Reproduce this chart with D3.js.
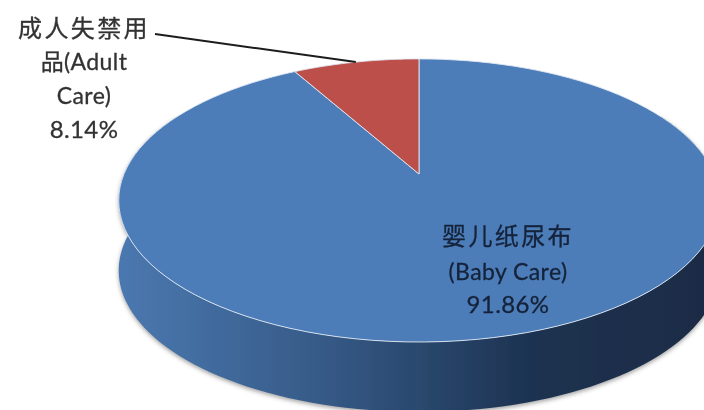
<!DOCTYPE html>
<html><head><meta charset="utf-8">
<script src="https://cdn.jsdelivr.net/npm/d3@7"></script>
<style>html,body{margin:0;padding:0;background:#fff;overflow:hidden}svg{display:block}
text{font-family:Lato,"Noto Sans CJK SC",sans-serif;text-anchor:middle}</style></head>
<body><svg id="c" width="704" height="410"></svg>
<script>
const categories = ["婴儿纸尿布 (Baby Care)", "成人失禁用品 (Adult Care)"];
const values = [91.86, 8.14];
const colors = ["#4d7db9", "#bd4f4c"];
const labelLines = [["婴儿纸尿布", "(Baby Care)", "91.86%"], ["成人失禁用", "品(Adult", "Care)", "8.14%"]];

const W = 704, H = 410;
const cx = 419, cy = 174, rx = 295, ryScale = 136.6, persp = -0.187, depth = 70;
const svg = d3.select("#c");
const defs = svg.append("defs");

const blur = defs.append("filter").attr("id", "soft").attr("x", "-5%").attr("y", "-5%").attr("width", "110%").attr("height", "110%");
blur.append("feGaussianBlur").attr("stdDeviation", 0.6);
const shadow = defs.append("filter").attr("id", "shadow").attr("x", "-10%").attr("y", "-10%").attr("width", "120%").attr("height", "120%");
shadow.append("feGaussianBlur").attr("stdDeviation", 2);

const grad = defs.append("linearGradient").attr("id", "wall").attr("gradientUnits", "userSpaceOnUse")
  .attr("x1", 118).attr("x2", 704).attr("y1", 0).attr("y2", 0);
[[0, "#4a78b0"], [0.15, "#426c9f"], [0.35, "#365a87"], [0.55, "#274468"], [0.72, "#1c3150"], [1, "#1a2c45"]]
  .forEach(([o, c]) => grad.append("stop").attr("offset", o).attr("stop-color", c));

// Pie angle (0 at top, clockwise) projected through the tilted-disc perspective
const project = (a, dz = 0) => {
  const u = Math.sin(a), v = -Math.cos(a), d = 1 + persp * v;
  return [cx + rx * u / d, cy + ryScale * v / d + dz];
};
const arcs = d3.pie().sort(null)(values);
const line = d3.line();
const rimPoints = (a0, a1, dz = 0) => d3.range(0, 121).map(i => project(a0 + (a1 - a0) * i / 120, dz));

const root = svg.append("g").attr("filter", "url(#soft)");

// Side wall
const wallA0 = Math.PI * 0.35, wallA1 = Math.PI * 1.65;
const wallPath = line(rimPoints(wallA0, wallA1).concat(rimPoints(wallA1, wallA0, depth))) + "Z";
root.append("path").attr("d", wallPath).attr("fill", "#666").attr("opacity", 0.6)
  .attr("transform", "translate(0,2)").attr("filter", "url(#shadow)");
root.append("path").attr("d", wallPath).attr("fill", "url(#wall)");

// Top face
root.selectAll("path.slice").data(arcs).join("path").attr("class", "slice")
  .attr("d", d => line([[cx, cy], ...rimPoints(d.startAngle, d.endAngle)]) + "Z")
  .attr("fill", (d, i) => colors[i])
  .attr("stroke", "#dfe8f3").attr("stroke-width", 0.9).attr("stroke-linejoin", "round");

// Leader line
const red = arcs[1];
const tip = project((red.startAngle + red.endAngle) / 2);
root.append("path").attr("d", line([[155, 34], tip])).attr("fill", "none").attr("stroke", "#1c1c1c").attr("stroke-width", 2);

// Labels
const addLabel = (lines, x, ys, fill) => lines.forEach((t, i) => {
  const cjk = /[\u4e00-\u9fff]{3}/.test(t);
  const num = /%$/.test(t);
  root.append("text").attr("x", x).attr("y", ys[i]).attr("fill", fill)
    .attr("stroke", fill).attr("stroke-width", 0.3)
    .attr("font-size", cjk ? 24 : num ? 24 : 23)
    .attr("letter-spacing", cjk ? 2.4 : 0.4).text(t);
});
addLabel(labelLines[1], 84, [37, 70, 104, 138], "#333333");
addLabel(labelLines[0], 508, [245, 280, 313], "#14233a");
</script></body></html>
